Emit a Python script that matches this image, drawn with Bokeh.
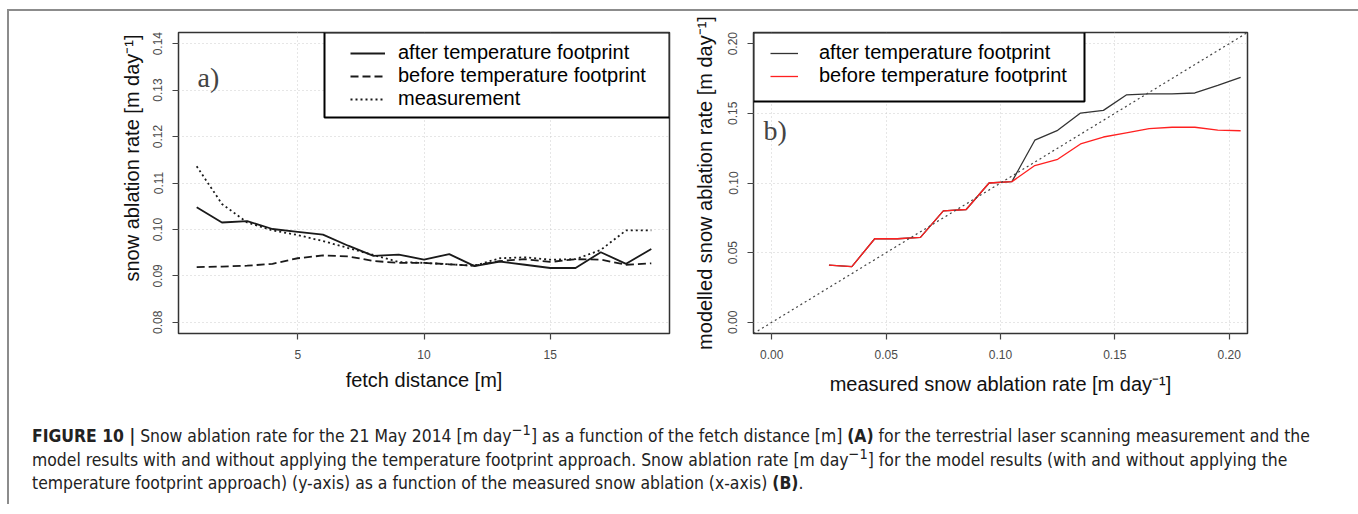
from bokeh.plotting import figure
from bokeh.models import (Range1d, FixedTicker, NumeralTickFormatter, Legend, LegendItem,
                          BoxAnnotation, Label, Slope, Div)
from bokeh.layouts import row, column
from bokeh.embed import file_html
from bokeh.resources import INLINE

# ---------------- data ----------------
# panel a: fetch distance [m]
fetch_distance = [1, 2, 3, 4, 5, 6, 7, 8, 9, 10, 11, 12, 13, 14, 15, 16, 17, 18, 19]
after_a = [0.1048, 0.1015, 0.1018, 0.1001, 0.0995, 0.0989, 0.0965, 0.0943, 0.0946, 0.0935,
           0.0947, 0.0921, 0.0931, 0.0924, 0.0917, 0.0917, 0.0951, 0.0926, 0.0958]
before_a = [0.0919, 0.0920, 0.0922, 0.0926, 0.0938, 0.0944, 0.0942, 0.0932, 0.0928, 0.0928,
            0.0925, 0.0922, 0.0932, 0.0936, 0.0930, 0.0936, 0.0935, 0.0924, 0.0927]
measurement_a = [0.1136, 0.1055, 0.1015, 0.0998, 0.0988, 0.0975, 0.0960, 0.0945, 0.0930, 0.0928,
                 0.0925, 0.0922, 0.0938, 0.0940, 0.0935, 0.0936, 0.0956, 0.0998, 0.0998]

# panel b: measured vs modelled snow ablation rate [m day-1]
measured_b = [0.025, 0.035, 0.045, 0.055, 0.065, 0.075, 0.085, 0.095, 0.105, 0.115,
              0.125, 0.135, 0.145, 0.155, 0.165, 0.175, 0.185, 0.195, 0.205]
after_b = [0.041, 0.040, 0.060, 0.060, 0.061, 0.080, 0.081, 0.100, 0.101, 0.1307,
           0.1378, 0.1502, 0.1521, 0.1632, 0.1639, 0.1639, 0.1646, 0.1701, 0.1758]
before_b = [0.041, 0.040, 0.060, 0.060, 0.061, 0.080, 0.081, 0.100, 0.101, 0.1125,
            0.1170, 0.1280, 0.1330, 0.1360, 0.1390, 0.1400, 0.1400, 0.1380, 0.1375]

# ticks and labels
ticks_a_x = [5, 10, 15]
ticks_a_y = [0.08, 0.09, 0.10, 0.11, 0.12, 0.13, 0.14]
ticks_b = [0.00, 0.05, 0.10, 0.15, 0.20]
legend_a = ["after temperature footprint", "before temperature footprint", "measurement"]
legend_b = ["after temperature footprint", "before temperature footprint"]
xlabel_a = "fetch distance [m]"
ylabel_a = "snow ablation rate [m day\u207b\u00b9]"
xlabel_b = "measured snow ablation rate [m day\u207b\u00b9]"
ylabel_b = "modelled snow ablation rate [m day\u207b\u00b9]"

SANS = "Liberation Sans"
SERIF = "Liberation Serif"


def style(p):
    p.outline_line_color = "#333333"
    p.outline_line_width = 1.5
    p.background_fill_color = "white"
    p.border_fill_color = "white"
    for ax in p.axis:
        ax.axis_line_color = None
        ax.major_tick_line_color = "#444444"
        ax.major_tick_line_width = 1.2
        ax.major_tick_out = 6
        ax.major_tick_in = 0
        ax.minor_tick_line_color = None
        ax.major_label_text_font = SANS
        ax.major_label_text_font_size = "12px"
        ax.major_label_text_color = "#4a4a4a"
        ax.axis_label_text_font = SANS
        ax.axis_label_text_font_size = "20px"
        ax.axis_label_text_font_style = "normal"
        ax.axis_label_text_color = "#111111"
    p.grid.grid_line_color = "#cccccc"
    p.grid.grid_line_dash = "1 3"
    p.grid.grid_line_width = 1


# ---------------- panel a ----------------
p1 = figure(width=681, height=393, x_range=Range1d(0.28, 19.72), y_range=Range1d(0.0776, 0.1424),
            output_backend="svg", toolbar_location=None,
            min_border_left=169, min_border_right=21, min_border_top=21, min_border_bottom=71)
style(p1)
p1.xaxis.ticker = FixedTicker(ticks=ticks_a_x)
p1.yaxis.ticker = FixedTicker(ticks=ticks_a_y)
p1.yaxis.formatter = NumeralTickFormatter(format="0.00")
p1.yaxis.major_label_orientation = "vertical"
p1.xaxis.axis_label = xlabel_a
# leading em/en spaces move the visible title up, as in the original figure
p1.yaxis.axis_label = "\u2003\u2003\u2002" + ylabel_a
p1.xaxis.major_label_standoff = 10
p1.xaxis.axis_label_standoff = 7
p1.yaxis.major_label_standoff = 10
p1.yaxis.axis_label_standoff = 8

ra1 = p1.line(fetch_distance, after_a, line_color="#1a1a1a", line_width=1.8)
ra2 = p1.line(fetch_distance, before_a, line_color="#1a1a1a", line_width=1.8, line_dash="8 4")
ra3 = p1.line(fetch_distance, measurement_a, line_color="#1a1a1a", line_width=1.8, line_dash="2 3")

box_a = BoxAnnotation(left=315, left_units="canvas", bottom=106, bottom_units="canvas",
                      fill_color="white", fill_alpha=1.0, line_color="black", line_alpha=1.0,
                      line_width=2)
p1.add_layout(box_a)
leg_a = Legend(items=[LegendItem(label=legend_a[0], renderers=[ra1]),
                      LegendItem(label=legend_a[1], renderers=[ra2]),
                      LegendItem(label=legend_a[2], renderers=[ra3])],
               location=(172, 223), padding=0, margin=0, spacing=0,
               glyph_width=35, glyph_height=20, label_height=20, label_standoff=13,
               label_text_font=SANS, label_text_font_size="20px", label_text_color="black",
               border_line_alpha=0, background_fill_alpha=0)
p1.add_layout(leg_a)
p1.add_layout(Label(x=19, y=256, x_units="screen", y_units="screen", text="a)",
                    text_font=SERIF, text_font_size="28px", text_baseline="alphabetic"))

# ---------------- panel b ----------------
p2 = figure(width=664, height=393, x_range=Range1d(-0.008, 0.208), y_range=Range1d(-0.008, 0.208),
            output_backend="svg", toolbar_location=None,
            min_border_left=63, min_border_right=107, min_border_top=19, min_border_bottom=71)
style(p2)
p2.xaxis.ticker = FixedTicker(ticks=ticks_b)
p2.yaxis.ticker = FixedTicker(ticks=ticks_b)
p2.xaxis.formatter = NumeralTickFormatter(format="0.00")
p2.yaxis.formatter = NumeralTickFormatter(format="0.00")
p2.yaxis.major_label_orientation = "vertical"
p2.xaxis.axis_label = xlabel_b
p2.yaxis.axis_label = ylabel_b
p2.xaxis.major_label_standoff = 10
p2.xaxis.axis_label_standoff = 11
p2.yaxis.major_label_standoff = 10
p2.yaxis.axis_label_standoff = 10

p2.add_layout(Slope(gradient=1, y_intercept=0, line_color="#444444", line_dash="2 3", line_width=1.2))
rb1 = p2.line(measured_b, after_b, line_color="#333333", line_width=1.3)
rb2 = p2.line(measured_b, before_b, line_color="#ff2020", line_width=1.3)

box_b = BoxAnnotation(right=394, right_units="canvas", bottom=90, bottom_units="canvas",
                      fill_color="white", fill_alpha=1.0, line_color="black", line_alpha=1.0,
                      line_width=2)
p2.add_layout(box_b)
leg_b = Legend(items=[LegendItem(label=legend_b[0], renderers=[rb1]),
                      LegendItem(label=legend_b[1], renderers=[rb2])],
               location=(17, 246), padding=0, margin=0, spacing=0,
               glyph_width=28, glyph_height=20, label_height=20, label_standoff=21,
               label_text_font=SANS, label_text_font_size="20px", label_text_color="black",
               border_line_alpha=0, background_fill_alpha=0)
p2.add_layout(leg_b)
p2.add_layout(Label(x=10, y=203, x_units="screen", y_units="screen", text="b)",
                    text_font=SERIF, text_font_size="28px", text_baseline="alphabetic"))

# ---------------- caption ----------------
caption_html = (
    '<div style="font-family: \'Liberation Sans Narrow\', \'DejaVu Sans Condensed\', sans-serif; '
    'font-size: 17.4px; line-height: 23.5px; color: #222; white-space: nowrap; padding: 16px 0 0 18px;">'
    '<b>FIGURE 10 |</b> Snow ablation rate for the 21 May 2014 [m day<sup style="line-height:0">\u22121</sup>] '
    'as a function of the fetch distance [m] <b>(A)</b> for the terrestrial laser scanning measurement and the<br>'
    'model results with and without applying the temperature footprint approach. Snow ablation rate '
    '[m day<sup style="line-height:0">\u22121</sup>] for the model results (with and without applying the<br>'
    'temperature footprint approach) (y-axis) as a function of the measured snow ablation (x-axis) <b>(B)</b>.'
    '</div>'
)
caption = Div(text=caption_html, width=1345, height=90)

layout = column(row(p1, p2), caption,
                styles={"margin-left": "7px", "margin-top": "9px",
                        "border-left": "2px solid #8c8c8c", "border-right": "2px solid #8c8c8c",
                        "border-top": "2px solid #8c8c8c"})

with open("out.html", "w") as f:
    f.write(file_html(layout, INLINE))
